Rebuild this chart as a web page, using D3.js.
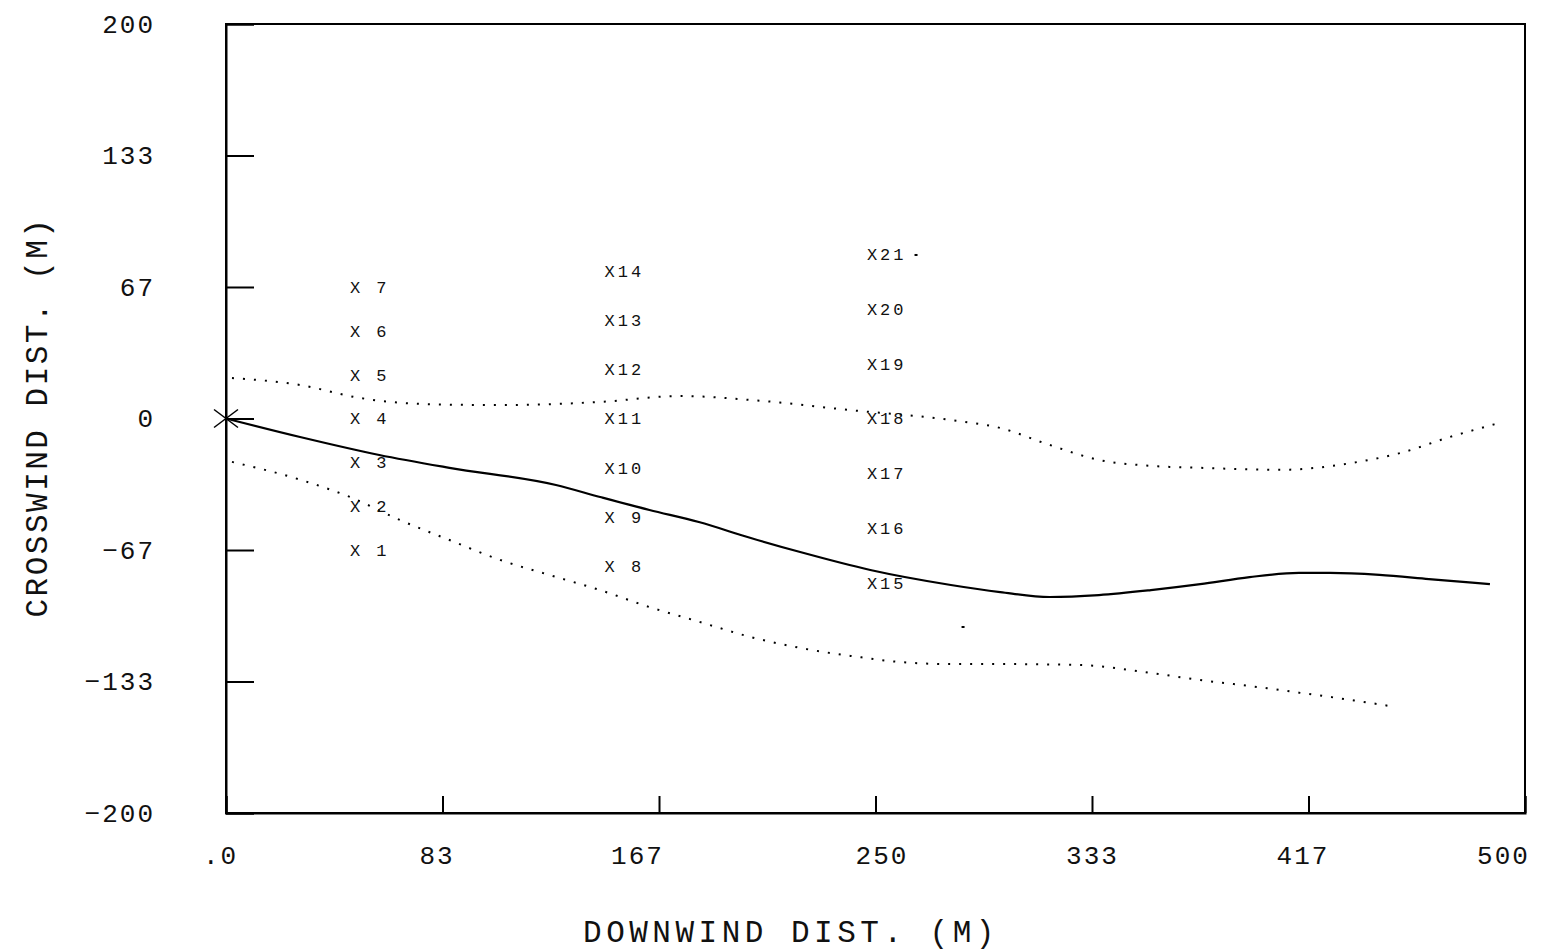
<!DOCTYPE html>
<html>
<head>
<meta charset="utf-8">
<script src="https://cdn.jsdelivr.net/npm/d3@7"></script>
<style>
  html, body { margin: 0; padding: 0; background: #fff; }
  svg { display: block; }
  text { font-family: "Liberation Mono", "DejaVu Sans Mono", monospace; fill: #111; white-space: pre; }
</style>
</head>
<body>
<svg id="chart" width="1543" height="952"></svg>
<script>
// ---------- data ----------
const xTicks = [0, 83.33, 166.67, 250, 333.33, 416.67, 500];
const xTickLabels = [".0", "83", "167", "250", "333", "417", "500"];
const yTicks = [-200, -133.33, -66.67, 0, 66.67, 133.33, 200];
const yTickLabels = ["\u2212200", "\u2212133", "\u221267", "0", "67", "133", "200"];

// plume centreline (solid)
const centerX = [0, 28.5, 59, 86, 127, 144, 163, 182, 202, 221, 248, 279, 298, 317, 336, 356, 375, 394, 413, 425, 444, 463, 486.5];
const centerY = [0, -9.4, -18.5, -25, -33.7, -39.8, -46.4, -52.5, -60.6, -67.7, -76.8, -84.4, -88, -90.5, -89.5, -87, -84, -80.4, -78.3, -78.3, -79.3, -81.4, -84];

// upper plume edge (dotted)
const upperX = [2.3, 28.5, 51.6, 74.7, 105, 144, 175, 202, 240, 279, 298, 317, 336, 356, 375, 406, 433, 452, 471, 490];
const upperY = [20.5, 17, 10.4, 7.4, 6.8, 8.4, 11.4, 9.4, 4.3, -0.8, -4.8, -13.4, -21, -24, -25, -26, -22.6, -17.5, -9.4, -2.3];

// lower plume edge (dotted)
const lowerX = [2.3, 28.5, 47.7, 67, 86, 105.5, 124.7, 144, 163, 182, 202, 221, 244, 259, 279, 298, 329, 356, 375, 394, 413, 433, 450];
const lowerY = [-22, -31, -39.8, -51.5, -61.6, -71.7, -79.4, -87, -95.6, -103, -110.8, -116.3, -121, -123.4, -124.5, -124.5, -125, -129, -132.6, -135.6, -139, -142.7, -146.2];

// receptors
const recId = [1,2,3,4,5,6,7, 8,9,10,11,12,13,14, 15,16,17,18,19,20,21];
const recX = [50,50,50,50,50,50,50, 148,148,148,148,148,148,148, 249,249,249,249,249,249,249];
const recY = [-66.7,-44.4,-22.2,0,22.2,44.4,66.7, -75,-50,-25,0,25,50,75, -83.3,-55.6,-27.8,0,27.8,55.6,83.3];

// source location
const sourceX = [0];
const sourceY = [0];

// stray plotter marks
const strayX = [265.6, 283.7];
const strayY = [82.9, -105.7];

// ---------- chart ----------
const svg = d3.select("#chart");
svg.append("rect").attr("width", 1543).attr("height", 952).attr("fill", "#fff");

const x = d3.scaleLinear().domain([0, 500]).range([226, 1525]);
const y = d3.scaleLinear().domain([-200, 200]).range([813, 24]);

// frame
svg.append("rect")
  .attr("x", x(0)).attr("y", y(200))
  .attr("width", x(500) - x(0)).attr("height", y(-200) - y(200))
  .attr("fill", "none").attr("stroke", "#000").attr("stroke-width", 2);

// left axis
const yAxis = d3.axisLeft(y)
  .tickValues(yTicks)
  .tickSize(-28)
  .tickPadding(71)
  .tickFormat((d, i) => yTickLabels[i]);
const gy = svg.append("g").attr("transform", `translate(${x(0)},0)`).call(yAxis);
gy.select(".domain").attr("stroke", "#000").attr("stroke-width", 2);
gy.selectAll(".tick line").attr("stroke", "#000").attr("stroke-width", 2);
gy.selectAll(".tick text")
  .attr("font-family", "Liberation Mono, DejaVu Sans Mono, monospace")
  .attr("font-size", 26).attr("letter-spacing", 2).attr("fill", "#111");

// bottom axis
const xAxis = d3.axisBottom(x)
  .tickValues(xTicks)
  .tickSize(-17)
  .tickPadding(33)
  .tickFormat((d, i) => xTickLabels[i]);
const gx = svg.append("g").attr("transform", `translate(0,${y(-200)})`).call(xAxis);
gx.select(".domain").attr("stroke", "#000").attr("stroke-width", 2);
gx.selectAll(".tick line").attr("stroke", "#000").attr("stroke-width", 2);
const xLabelShift = [-6, -6, -22, 6, 0, -6, -22];
gx.selectAll(".tick text")
  .attr("font-family", "Liberation Mono, DejaVu Sans Mono, monospace")
  .attr("font-size", 26).attr("letter-spacing", 2).attr("fill", "#111")
  .attr("dx", (d, i) => xLabelShift[i]);

// axis titles
svg.append("text")
  .attr("x", 791).attr("y", 942)
  .attr("text-anchor", "middle")
  .attr("font-size", 31).attr("letter-spacing", 4.5)
  .text("DOWNWIND DIST. (M)");

svg.append("text")
  .attr("transform", "translate(47,417) rotate(-90)")
  .attr("text-anchor", "middle")
  .attr("font-size", 31).attr("letter-spacing", 2.5)
  .text("CROSSWIND DIST. (M)");

// lines
const mk = (xs, ys) => xs.map((v, i) => [v, ys[i]]);
const line = d3.line().x(d => x(d[0])).y(d => y(d[1])).curve(d3.curveMonotoneX);

svg.append("path").datum(mk(upperX, upperY))
  .attr("d", line).attr("fill", "none")
  .attr("stroke", "#000").attr("stroke-width", 2).attr("stroke-dasharray", "2,9");

svg.append("path").datum(mk(lowerX, lowerY))
  .attr("d", line).attr("fill", "none")
  .attr("stroke", "#000").attr("stroke-width", 2).attr("stroke-dasharray", "2,9");

svg.append("path").datum(mk(centerX, centerY))
  .attr("d", line).attr("fill", "none")
  .attr("stroke", "#000").attr("stroke-width", 2.2);

// source marker
const src = svg.append("g");
sourceX.forEach((sx, i) => {
  const cx = x(sx), cy = y(sourceY[i]);
  src.append("line").attr("x1", cx - 12).attr("y1", cy - 9).attr("x2", cx + 12).attr("y2", cy + 9)
    .attr("stroke", "#000").attr("stroke-width", 1.5);
  src.append("line").attr("x1", cx - 12).attr("y1", cy + 9).attr("x2", cx + 12).attr("y2", cy - 9)
    .attr("stroke", "#000").attr("stroke-width", 1.5);
});

// receptors
svg.append("g").selectAll("text")
  .data(recId)
  .join("text")
  .attr("x", (d, i) => x(recX[i]) - 6)
  .attr("y", (d, i) => y(recY[i]))
  .attr("dy", "0.35em")
  .attr("font-size", 17).attr("letter-spacing", 3)
  .text(d => "X" + String(d).padStart(2, " "));

// stray marks
svg.append("g").selectAll("rect")
  .data(strayX)
  .join("rect")
  .attr("x", (d, i) => x(d) - 1.5)
  .attr("y", (d, i) => y(strayY[i]) - 1)
  .attr("width", 3).attr("height", 2)
  .attr("fill", "#000");
</script>
</body>
</html>
